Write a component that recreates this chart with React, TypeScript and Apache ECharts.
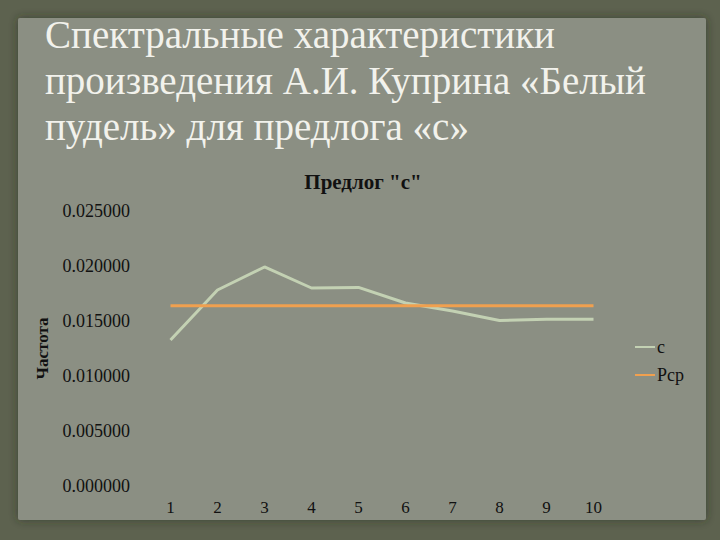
import React, { useEffect, useRef } from "react";
import * as echarts from "echarts";

const categories = ["1", "2", "3", "4", "5", "6", "7", "8", "9", "10"];
const seriesC = [0.01327, 0.01782, 0.01991, 0.01800, 0.01805, 0.01664, 0.01591, 0.01505, 0.01515, 0.01515];
const seriesRcp = [0.01639, 0.01639, 0.01639, 0.01639, 0.01639, 0.01639, 0.01639, 0.01639, 0.01639, 0.01639];
const titleLines = [
  "Спектральные характеристики",
  "произведения А.И. Куприна «Белый",
  "пудель» для предлога «с»",
];
const chartTitle = 'Предлог "с"';
const yAxisName = "Частота";
const seriesNames = ["с", "Рср"];

export default function App() {
  const ref = useRef<HTMLDivElement>(null);
  useEffect(() => {
    if (!ref.current) return;
    const chart = echarts.init(ref.current, undefined, { renderer: "svg" });
    const serif = "'Liberation Serif', 'DejaVu Serif', serif";
    chart.setOption({
      animation: false,
      backgroundColor: "#5d624f",
      graphic: [
        {
          type: "rect",
          shape: { x: 18, y: 18, width: 688, height: 502, r: 2 },
          style: { fill: "#8b8f83", shadowBlur: 10, shadowColor: "rgba(40,45,30,0.6)" },
          z: -10,
        },
        ...titleLines.map((t, i) => ({
          type: "text",
          left: 45,
          top: 15 + i * 46,
          style: { text: t, fill: "#f2f2ec", font: `39px ${serif}` },
          z: 5,
        })),
      ],
      title: {
        text: chartTitle,
        left: 358,
        top: 166,
        textAlign: "center",
        textStyle: { fontFamily: serif, fontSize: 21, fontWeight: "bold", color: "#111" },
      },
      legend: {
        orient: "vertical",
        left: 630,
        top: 333,
        itemGap: 10,
        itemWidth: 20,
        itemHeight: 2,
        icon: "rect",
        textStyle: { fontFamily: serif, fontSize: 18, color: "#111", padding: [0, 0, 0, -3] },
        data: seriesNames,
      },
      grid: { left: 147, right: 103, top: 211, bottom: 54, containLabel: false },
      xAxis: {
        type: "category",
        data: categories,
        boundaryGap: true,
        axisLine: { show: false },
        axisTick: { show: false },
        axisLabel: { margin: 13, fontFamily: serif, fontSize: 17, color: "#111" },
      },
      yAxis: {
        type: "value",
        min: 0,
        max: 0.025,
        interval: 0.005,
        name: yAxisName,
        nameLocation: "middle",
        nameRotate: 90,
        nameGap: 96,
        nameTextStyle: { fontFamily: serif, fontSize: 17, fontWeight: "bold", color: "#111" },
        splitLine: { show: false },
        axisLine: { show: false },
        axisTick: { show: false },
        axisLabel: {
          margin: 17,
          fontFamily: serif,
          fontSize: 18,
          color: "#111",
          formatter: (v: number) => v.toFixed(6),
        },
      },
      series: [
        {
          name: seriesNames[0],
          type: "line",
          data: seriesC,
          symbol: "none",
          lineStyle: { color: "#c3d1b3", width: 3 },
          itemStyle: { color: "#c3d1b3" },
        },
        {
          name: seriesNames[1],
          type: "line",
          data: seriesRcp,
          symbol: "none",
          lineStyle: { color: "#f0a04f", width: 3 },
          itemStyle: { color: "#f0a04f" },
        },
      ],
    });
    return () => chart.dispose();
  }, []);
  return (
    <div
      ref={ref}
      style={{ position: "fixed", left: 0, top: 0, width: 720, height: 540 }}
    />
  );
}
